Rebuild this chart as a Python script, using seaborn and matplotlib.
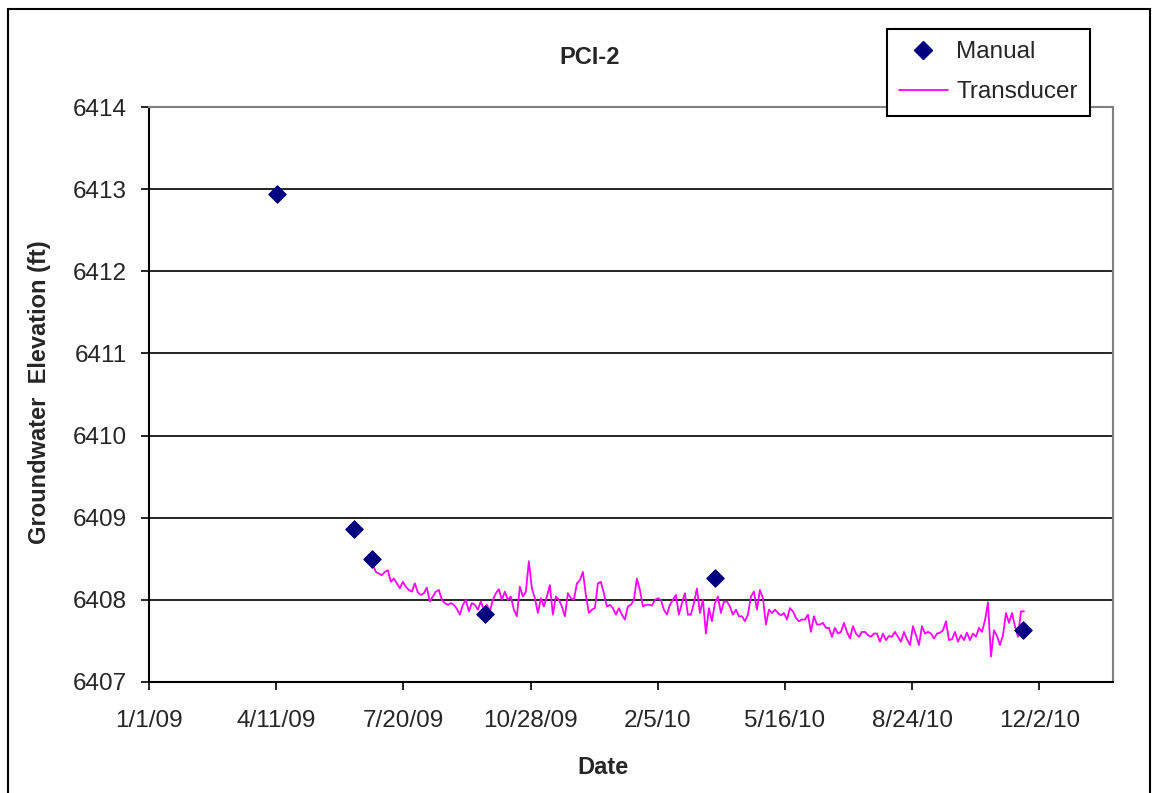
import matplotlib
matplotlib.use("Agg")
import matplotlib.pyplot as plt
from matplotlib.lines import Line2D
from matplotlib.patches import Rectangle
import numpy as np
import pandas as pd
import seaborn as sns

# manual readings
manual_dates = ["2009-04-12", "2009-06-11", "2009-06-25", "2009-09-22", "2010-03-22", "2010-11-19"]
manual_elev = [6412.94, 6408.86, 6408.50, 6407.83, 6408.27, 6407.63]

# transducer record (evenly spaced readings between start and end)
transducer_start = "2009-06-26"
transducer_end = "2010-11-20"
transducer_elev = [
    6408.43, 6408.34, 6408.32, 6408.30, 6408.34, 6408.36, 6408.22, 6408.26, 6408.20, 6408.14,
    6408.22, 6408.16, 6408.12, 6408.10, 6408.20, 6408.09, 6408.06, 6408.08, 6408.15, 6407.98,
    6408.04, 6408.10, 6408.12, 6408.00, 6407.96, 6407.94, 6407.96, 6407.94, 6407.89, 6407.82,
    6407.94, 6408.00, 6407.86, 6407.96, 6407.94, 6407.88, 6407.98, 6407.88, 6407.94, 6407.86,
    6408.00, 6408.08, 6408.13, 6408.00, 6408.10, 6408.00, 6408.04, 6407.88, 6407.80, 6408.16,
    6408.04, 6408.10, 6408.47, 6408.14, 6408.02,
    6407.84, 6408.02, 6407.92, 6408.04, 6408.18, 6407.82, 6408.04, 6408.00, 6407.92, 6407.80,
    6408.08, 6408.02, 6408.00, 6408.20, 6408.24, 6408.34, 6408.06, 6407.84, 6407.88, 6407.90,
    6408.20, 6408.22, 6408.08, 6407.92, 6407.94, 6407.90, 6407.82, 6407.90, 6407.82, 6407.76,
    6407.92, 6407.94, 6408.00, 6408.26, 6408.12, 6407.92, 6407.94, 6407.94, 6407.93, 6408.00,
    6408.02, 6408.00, 6407.88, 6407.82, 6407.94, 6408.00, 6408.06, 6407.82, 6407.96, 6408.08,
    6407.82, 6407.82, 6407.96, 6408.14, 6407.84,
    6408.00, 6407.59, 6407.90, 6407.74, 6407.96, 6408.04, 6407.84, 6407.98, 6407.98, 6407.92,
    6407.82, 6407.88, 6407.80, 6407.80, 6407.74, 6407.82, 6408.04, 6408.10, 6407.88, 6408.12,
    6408.02, 6407.70, 6407.88, 6407.84, 6407.88, 6407.84, 6407.81, 6407.84, 6407.76, 6407.90,
    6407.86, 6407.78, 6407.74, 6407.76, 6407.76, 6407.82, 6407.61, 6407.80, 6407.70, 6407.70,
    6407.72, 6407.66, 6407.66, 6407.55, 6407.66, 6407.59, 6407.61, 6407.72, 6407.61, 6407.53,
    6407.68, 6407.59, 6407.55, 6407.61, 6407.61,
    6407.57, 6407.55, 6407.59, 6407.59, 6407.49, 6407.59, 6407.51, 6407.56, 6407.55, 6407.61,
    6407.55, 6407.49, 6407.61, 6407.52, 6407.45, 6407.68, 6407.57, 6407.45, 6407.68, 6407.59,
    6407.61, 6407.59, 6407.53, 6407.59, 6407.60, 6407.63, 6407.74, 6407.51, 6407.52, 6407.61,
    6407.49, 6407.57, 6407.51, 6407.60, 6407.51, 6407.59, 6407.55, 6407.66, 6407.61, 6407.75,
    6407.97, 6407.31, 6407.63, 6407.56, 6407.45, 6407.57, 6407.84, 6407.72, 6407.84, 6407.68,
    6407.55, 6407.86, 6407.86,
]

tick_dates = ["2009-01-01", "2009-04-11", "2009-07-20", "2009-10-28",
              "2010-02-05", "2010-05-16", "2010-08-24", "2010-12-02"]
tick_labels = ["1/1/09", "4/11/09", "7/20/09", "10/28/09", "2/5/10", "5/16/10", "8/24/10", "12/2/10"]
y_ticks = [6407, 6408, 6409, 6410, 6411, 6412, 6413, 6414]

df_man = pd.DataFrame({"date": pd.to_datetime(manual_dates), "elev": manual_elev})
df_tr = pd.DataFrame({
    "date": pd.date_range(transducer_start, transducer_end, periods=len(transducer_elev)),
    "elev": transducer_elev,
})

sns.set_style("white")
plt.rcParams["font.family"] = ["Liberation Sans", "DejaVu Sans"]

fig = plt.figure(figsize=(11.52, 7.93), dpi=100)
ax = fig.add_axes([149/1152, 1-682/793, (1113-149)/1152, (682-107)/793])

sns.lineplot(data=df_tr, x="date", y="elev", ax=ax, color="#FF00FF", lw=1.3, zorder=3)
sns.scatterplot(data=df_man, x="date", y="elev", ax=ax, marker="D", s=80,
                color="#000080", edgecolor="#000080", zorder=4)

ax.set_xlim(pd.Timestamp("2009-01-01"), pd.Timestamp("2011-01-29"))
ax.set_ylim(6407, 6414)
ax.set_yticks(y_ticks)
ax.set_yticklabels([str(v) for v in y_ticks])
ax.set_xticks(pd.to_datetime(tick_dates))
ax.set_xticklabels(tick_labels)
ax.tick_params(axis="both", labelsize=17.5, direction="out", length=6, width=1.2,
               color="black", bottom=True, left=True)
ax.tick_params(axis="x", pad=14)
ax.tick_params(axis="y", pad=10)
ax.yaxis.grid(True, color="black", lw=1.2)
ax.set_axisbelow(True)
for s in ["left", "bottom"]:
    ax.spines[s].set_color("black")
    ax.spines[s].set_linewidth(1.5)
for s in ["top", "right"]:
    ax.spines[s].set_color("#808080")
    ax.spines[s].set_linewidth(1.5)
ax.set_xlabel("")
ax.set_ylabel("")

fig.text(590/1152, 1-57/793, "PCI-2", ha="center", va="center", fontsize=17, fontweight="bold")
fig.text(603/1152, 1-768/793, "Date", ha="center", va="center", fontsize=17, fontweight="bold")
fig.text(40/1152, 1-392/793, "Groundwater  Elevation (ft)", ha="center", va="center",
         rotation=90, fontsize=17, fontweight="bold")

handles = [
    Line2D([], [], marker="D", color="#000080", ls="none", markersize=9),
    Line2D([], [], color="#FF00FF", lw=1.3),
]
leg = ax.legend(handles, ["Manual", "Transducer"], loc="upper left",
                bbox_to_anchor=(887/1152, 1-29/793), bbox_transform=fig.transFigure,
                borderaxespad=0, fontsize=17.5, frameon=True, fancybox=False, framealpha=1,
                edgecolor="black", borderpad=0.5, handlelength=2.0, handletextpad=0.35,
                labelspacing=0.75)
leg.get_frame().set_linewidth(1.5)

fig.patches.append(Rectangle((8/1152, -0.01), (1150-8)/1152, 1-9/793+0.01,
                             transform=fig.transFigure, fill=False, ec="black", lw=1.5))

fig.savefig("out.png", dpi=100)
